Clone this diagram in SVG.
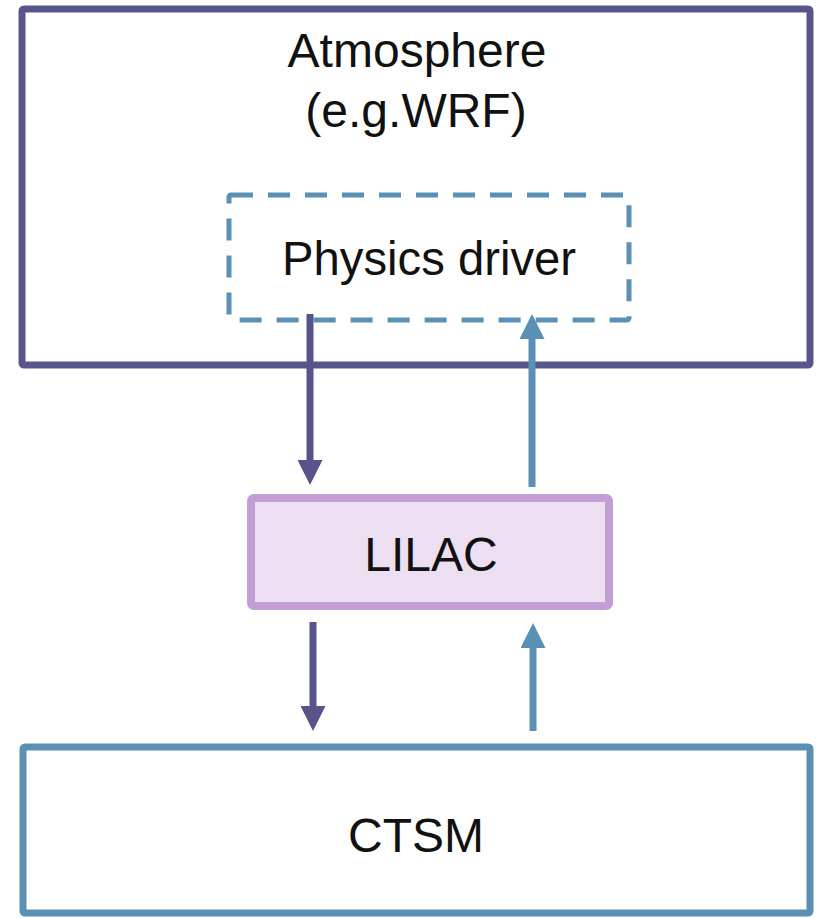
<svg xmlns="http://www.w3.org/2000/svg" width="817" height="918" viewBox="0 0 817 918">
<style>
text{font-family:"Liberation Sans",Arial,sans-serif;font-size:48px;fill:#111;text-anchor:middle}
.atm{fill:none;stroke:#56568C;stroke-width:7}
.drv{fill:none;stroke:#5A90B4;stroke-width:5;stroke-dasharray:22 15}
.lil{fill:#EBDFF1;stroke:#C39ED5;stroke-width:8}
.ctsm{fill:#fff;stroke:#5A90B4;stroke-width:7}
.dn{stroke:#56548B;stroke-width:7;fill:none;marker-end:url(#hd)}
.up{stroke:#5A90B4;stroke-width:7;fill:none;marker-end:url(#hu)}
</style>
<defs>
<marker id="hd" markerUnits="userSpaceOnUse" markerWidth="25" markerHeight="25" viewBox="0 0 25 25" refX="0" refY="12.5" orient="auto"><path d="M0,0 L25,12.5 L0,25 z" fill="#56548B"/></marker>
<marker id="hu" markerUnits="userSpaceOnUse" markerWidth="25" markerHeight="25" viewBox="0 0 25 25" refX="0" refY="12.5" orient="auto"><path d="M0,0 L25,12.5 L0,25 z" fill="#5A90B4"/></marker>
</defs>
<rect width="817" height="918" fill="#fff"/>
<g id="atmosphere">
<rect class="atm" x="22" y="9" width="788" height="356" rx="2"/>
<text x="417" y="67">Atmosphere</text>
<text x="416" y="127">(e.g.WRF)</text>
</g>
<g id="physics-driver">
<rect class="drv" x="229" y="195" width="400" height="125" rx="2"/>
<text x="429" y="275" textLength="294" lengthAdjust="spacingAndGlyphs">Physics driver</text>
</g>
<g id="lilac">
<rect class="lil" x="251" y="498" width="358" height="108" rx="3"/>
<text x="431" y="571">LILAC</text>
</g>
<g id="ctsm">
<rect class="ctsm" x="23" y="747" width="787" height="166" rx="2"/>
<text x="416" y="852">CTSM</text>
</g>
<g id="connectors">
<line class="dn" x1="310" y1="314" x2="310" y2="460"/>
<line class="up" x1="532" y1="487" x2="532" y2="339"/>
<line class="dn" x1="313" y1="622" x2="313" y2="706"/>
<line class="up" x1="533" y1="731" x2="533" y2="648"/>
</g>
</svg>
